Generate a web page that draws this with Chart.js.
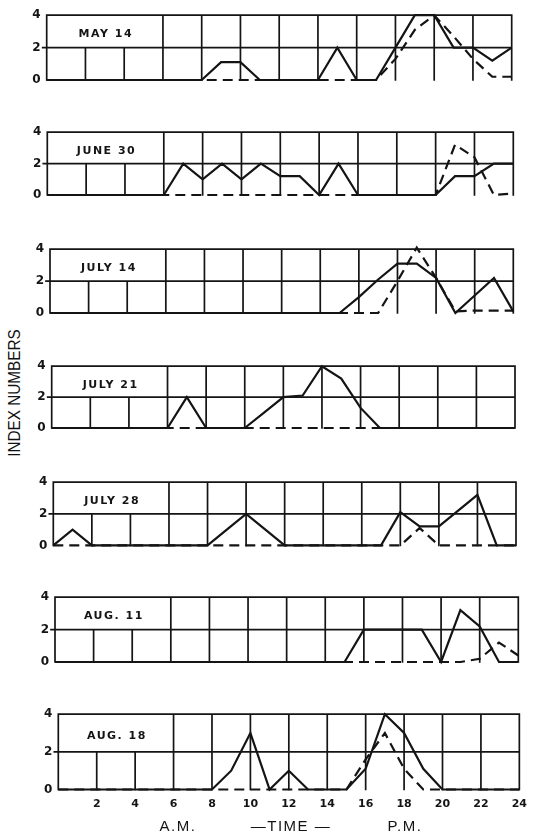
<!DOCTYPE html>
<html><head><meta charset="utf-8">
<script src="https://cdn.jsdelivr.net/npm/chart.js@4/dist/chart.umd.min.js"></script>
<style>
html,body{margin:0;padding:0;background:#fff;width:535px;height:837px;overflow:hidden;position:relative}
canvas{position:absolute;left:0}
#ylab{position:absolute;font:17px "Liberation Sans",Arial,sans-serif;color:#111;white-space:nowrap;left:15px;top:393px;transform:translate(-50%,-50%) rotate(-90deg) scaleX(0.9);}
</style></head><body>
<div id="ylab"></div>
<script>
// ---- data ----
const hours = [0,1,2,3,4,5,6,7,8,9,10,11,12,13,14,15,16,17,18,19,20,21,22,23,24];
const panelLabels = ['MAY 14','JUNE 30','JULY 14','JULY 21','JULY 28','AUG. 11','AUG. 18'];

const may14Solid   = [0,0,0,0,0,0,0,0,0,1.1,1.1,0,0,0,0,2,0,0,2,4,4,2,2,1.2,2];
const may14Dashed  = [0,0,0,0,0,0,0,0,0,0,0,0,0,0,0,0,0,0,1.3,3.1,4,2.7,1.3,0.2,0.2];
const june30Solid  = [0,0,0,0,0,0,0,2,1,2,1,2,1.2,1.2,0,2,0,0,0,0,0,1.2,1.2,2,2];
const june30Dashed = [0,0,0,0,0,0,0,0,0,0,0,0,0,0,0,0,0,0,0,0,0,3.2,2.4,0,0.1];
const july14Solid  = [0,0,0,0,0,0,0,0,0,0,0,0,0,0,0,0,1,2.1,3.1,3.1,2.2,0,1.1,2.2,0.1];
const july14Dashed = [0,0,0,0,0,0,0,0,0,0,0,0,0,0,0,0,0,0,2,4.1,2.2,0.1,0.15,0.15,0.15];
const july21Solid  = [0,0,0,0,0,0,0,2,0,0,0,1,2,2.1,4,3.2,1.3,0,0,0,0,0,0,0,0];
const july21Dashed = [0,0,0,0,0,0,0,0,0,0,0,0,0,0,0,0,0,0,0,0,0,0,0,0,0];
const july28Solid  = [0,1,0,0,0,0,0,0,0,1,2,1,0,0,0,0,0,0,2.1,1.2,1.2,2.2,3.2,0,0];
const july28Dashed = [0,0,0,0,0,0,0,0,0,0,0,0,0,0,0,0,0,0,0,1.1,0,0,0,0,0];
const aug11Solid   = [0,0,0,0,0,0,0,0,0,0,0,0,0,0,0,0,2,2,2,2,0,3.2,2.2,0,0];
const aug11Dashed  = [0,0,0,0,0,0,0,0,0,0,0,0,0,0,0,0,0,0,0,0,0,0,0.2,1.2,0.4];
const aug18Solid   = [0,0,0,0,0,0,0,0,0,1,3,0,1,0,0,0,1.1,4,3,1.1,0,0,0,0,0];
const aug18Dashed  = [0,0,0,0,0,0,0,0,0,0,0,0,0,0,0,0,1.6,3,1.1,0,0,0,0,0,0];

const solidSeries  = [may14Solid, june30Solid, july14Solid, july21Solid, july28Solid, aug11Solid, aug18Solid];
const dashedSeries = [may14Dashed, june30Dashed, july14Dashed, july21Dashed, july28Dashed, aug11Dashed, aug18Dashed];

const xTickLabels = ['','2','4','6','8','10','12','14','16','18','20','22','24'];
const yTickLabels = ['0','2','4'];
const bottomTitle = ['A.M.','\u2014TIME \u2014','P.M.'];
const yAxisTitle = 'INDEX NUMBERS';

// ---- layout (pixel frames of each panel's plot area: top, bottom, left, right) ----
const frames = [
  {t:14,   b:92,    l:46.7, r:511.7},
  {t:131,  b:207,   l:47.3, r:513.3},
  {t:248,  b:325,   l:50,   r:513.3},
  {t:365.5,b:440,   l:51.7, r:515},
  {t:481,  b:557.7, l:53.3, r:516},
  {t:596.7,b:674,   l:55,   r:518.3},
  {t:713.3,b:789.5, l:58.3, r:520.7}
];
const INK = '#141414';

document.getElementById('ylab').textContent = yAxisTitle;

const gridPlugin = {
  id: 'panelGrid',
  beforeDatasetsDraw(chart, args, opts) {
    const {ctx} = chart; const x = chart.scales.x, y = chart.scales.y;
    const y0 = y.getPixelForValue(0), y2 = y.getPixelForValue(2), y4 = y.getPixelForValue(4);
    const xl = x.getPixelForValue(0), xr = x.getPixelForValue(24);
    ctx.save();
    ctx.strokeStyle = INK; ctx.lineWidth = 1.7; ctx.lineCap = 'square';
    ctx.beginPath();
    ctx.moveTo(xl - 4, y2); ctx.lineTo(xr, y2);
    ctx.moveTo(xl, y4); ctx.lineTo(xr, y4);
    x.ticks.forEach(t => {
      const px = x.getPixelForValue(t.value);
      ctx.moveTo(px, y0);
      ctx.lineTo(px, (t.value > 0 && t.value < 6) ? y2 : y4);
    });
    ctx.stroke();
    ctx.fillStyle = INK;
    ctx.font = 'bold 11px "DejaVu Sans", sans-serif';
    try { ctx.letterSpacing = '1.5px'; } catch(e) {}
    ctx.textAlign = 'center'; ctx.textBaseline = 'middle';
    ctx.fillText(opts.label, x.getPixelForValue(3) + 1, y.getPixelForValue(3) + 3);
    ctx.restore();
  },
  afterDraw(chart, args, opts) {
    if (!opts.bottomTitle) return;
    const {ctx} = chart;
    ctx.save();
    ctx.fillStyle = INK;
    ctx.font = '15px "Liberation Sans", Arial, sans-serif';
    try { ctx.letterSpacing = '1.5px'; } catch(e) {}
    ctx.textAlign = 'center'; ctx.textBaseline = 'middle';
    const cy = 827 - opts.canvasTop;
    const cx = [178, 291, 405];
    opts.bottomTitle.forEach((s, i) => ctx.fillText(s, cx[i], cy));
    ctx.restore();
  }
};

frames.forEach((f, i) => {
  const isLast = i === frames.length - 1;
  const canvasTop = Math.floor(f.t) - 12;
  const padT = f.t - canvasTop;
  const plotH = f.b - f.t;
  const H = isLast ? 837 - canvasTop : Math.ceil(padT + plotH + 12);
  const cv = document.createElement('canvas');
  cv.width = 535; cv.height = H;
  cv.style.top = canvasTop + 'px';
  cv.style.width = '535px'; cv.style.height = H + 'px';
  document.body.appendChild(cv);

  const pts = a => hours.map((h, k) => ({x: h, y: a[k]}));

  new Chart(cv, {
    type: 'line',
    data: {
      datasets: [
        {data: pts(solidSeries[i]), borderColor: INK, borderWidth: 2.2, pointRadius: 0, tension: 0, clip: false},
        {data: pts(dashedSeries[i]), borderColor: INK, borderWidth: 2.2, borderDash: [10, 6], pointRadius: 0, tension: 0, clip: false}
      ]
    },
    options: {
      responsive: false, animation: false, devicePixelRatio: 1,
      layout: {padding: {top: padT, bottom: isLast ? 0 : H - padT - plotH, left: 0, right: 535 - f.r}},
      plugins: {legend: {display: false}, tooltip: {enabled: false},
        panelGrid: {label: panelLabels[i], bottomTitle: isLast ? bottomTitle : null, canvasTop: canvasTop}},
      scales: {
        x: {type: 'linear', min: 0, max: 24, display: isLast,
            grid: {display: false, drawTicks: false}, border: {display: false},
            ticks: {stepSize: 2, autoSkip: false, maxRotation: 0, padding: 8, color: INK,
                    font: {family: '"DejaVu Sans", sans-serif', weight: 'bold', size: 11},
                    callback: v => xTickLabels[v / 2]},
            afterFit: s => { s.height = H - padT - plotH; }},
        y: {type: 'linear', min: 0, max: 4,
            grid: {display: false, drawTicks: false}, border: {display: false},
            ticks: {stepSize: 2, padding: 6, color: INK,
                    font: {family: '"DejaVu Sans", sans-serif', weight: 'bold', size: 12},
                    callback: v => yTickLabels[v / 2]},
            afterFit: s => { s.width = f.l; }}
      }
    },
    plugins: [gridPlugin]
  });
});
</script>
</body></html>
